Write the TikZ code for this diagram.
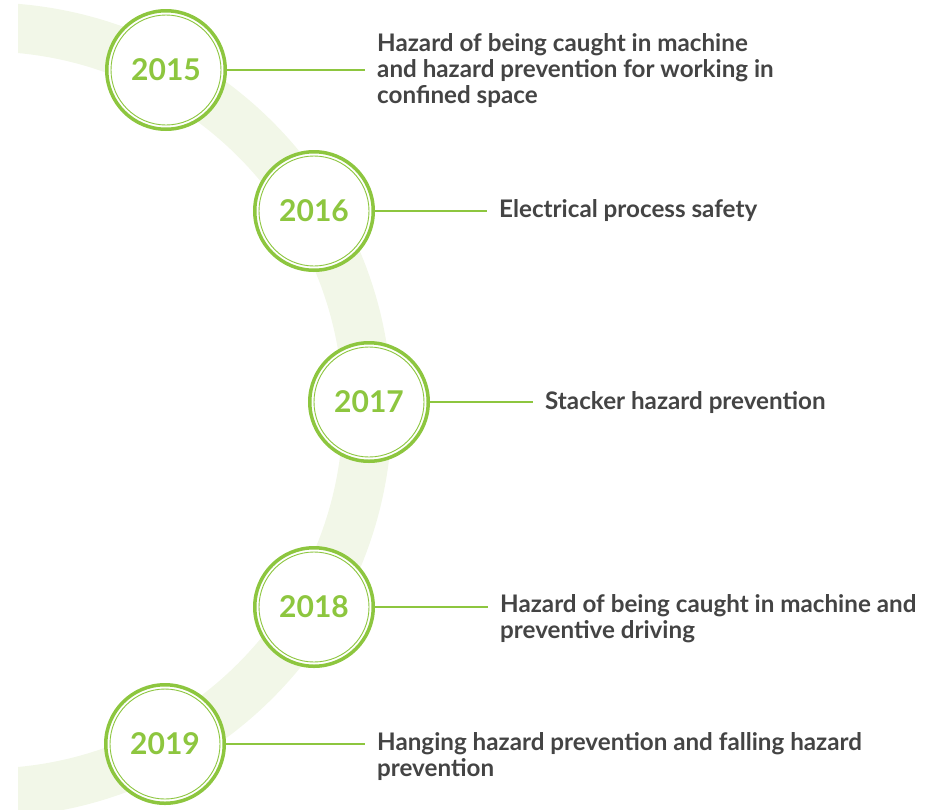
\documentclass[tikz,border=0pt]{standalone}
\usepackage{fontspec}
\setmainfont{Lato}
\usepackage{tikz}
\usetikzlibrary{calc}

\definecolor{leafgreen}{HTML}{8DC63F}
\definecolor{bandgreen}{HTML}{F2F7E8}
\definecolor{textgrey}{HTML}{444444}

\tikzset{
  yearring/.style={circle, draw=leafgreen, line width=3.5pt, fill=white,
    minimum size=118.5pt, inner sep=0pt, text=leafgreen,
    font=\fontsize{30}{30}\selectfont\bfseries,
    path picture={\draw[leafgreen, line width=0.9pt]
      (path picture bounding box.center) circle (55pt);}},
  topicnote/.style={anchor=west, align=left, inner xsep=12pt, inner ysep=0pt,
    text=textgrey, font=\fontsize{24.2}{26}\selectfont\bfseries},
  tieline/.style={draw=leafgreen, line width=1.4pt}
}

\begin{document}
\begin{tikzpicture}[x=1pt, y=-1pt]
  \useasboundingbox (0,0) rectangle (944,809);

  % background arc
  \begin{scope}
    \clip (18,0) rectangle (944,809);
    \draw[bandgreen, line width=49pt] (-15.5,410) circle (383pt);
  \end{scope}

  \node[yearring] (y2015) at (166,70) {2015};
  \node[yearring] (y2016) at (314,211) {2016};
  \node[yearring] (y2017) at (369,402) {2017};
  \node[yearring] (y2018) at (314,607) {2018};
  \node[yearring] (y2019) at (165,744) {2019};

  \node[topicnote] (t2015) at (365,71) {Hazard of being caught in machine\\and hazard prevention for working in\\confined space};
  \node[topicnote] (t2016) at (487,211) {Electrical process safety};
  \node[topicnote] (t2017) at (533,403) {Stacker hazard prevention};
  \node[topicnote] (t2018) at (488,619) {Hazard of being caught in machine and\\preventive driving};
  \node[topicnote] (t2019) at (365,757) {Hanging hazard prevention and falling hazard\\prevention};

  \foreach \yr in {2015,2016,2017,2018,2019}
    \draw[tieline] (y\yr.east) -- (y\yr.east -| t\yr.west);
\end{tikzpicture}
\end{document}
